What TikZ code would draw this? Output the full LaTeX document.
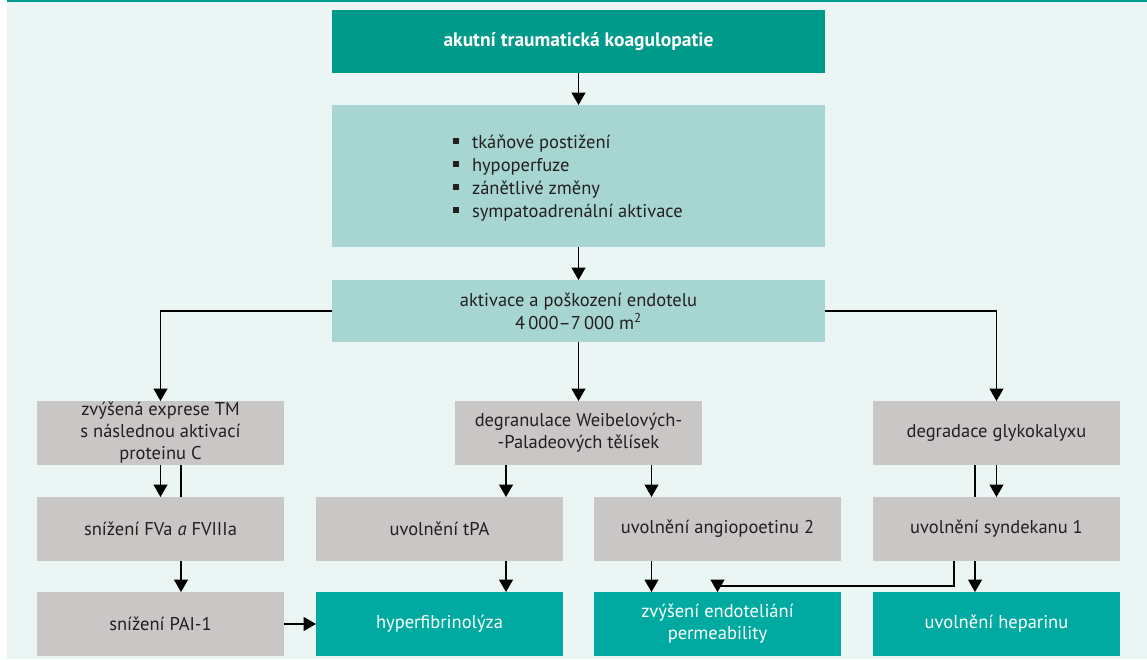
\documentclass[tikz,border=0pt]{standalone}
\usepackage{fontspec}
\setmainfont{PT Sans}
\usetikzlibrary{arrows.meta}
\pgfdeclarelayer{bglayer}
\pgfdeclarelayer{behind}
\pgfsetlayers{bglayer,behind,main}
\definecolor{bgc}{RGB}{235,245,243}
\definecolor{topc}{RGB}{0,154,138}
\definecolor{lightc}{RGB}{167,214,210}
\definecolor{grayc}{RGB}{201,199,197}
\definecolor{tealc}{RGB}{0,170,160}
\definecolor{txt}{RGB}{35,31,32}
\newcommand{\sqbul}{\makebox[19pt][l]{\rule[4pt]{6pt}{6pt}}}
\begin{document}
\begin{tikzpicture}[x=1pt,y=-1pt,
  base/.style={inner sep=0pt,outer sep=0pt,align=center,text=txt,
    font=\fontsize{18.5}{22}\selectfont},
  wbox/.style={base,minimum width=247pt,minimum height=64pt},
  graybox/.style={wbox,fill=grayc},
  tealbox/.style={wbox,fill=tealc,text=white},
  widebox/.style={base,minimum width=493pt},
  arr/.style={line width=1.4pt,draw=black,-{Triangle[width=14pt,length=12.5pt]}},
  ln/.style={line width=1.4pt,draw=black}]
\useasboundingbox (0,0) rectangle (1147,659);
\begin{pgfonlayer}{bglayer}
\fill[bgc] (7,0) rectangle (1147,659);
\fill[topc] (7,0) rectangle (1147,1.5);
\end{pgfonlayer}

% top column
\node[widebox,fill=topc,minimum height=63pt,text=white,font=\bfseries\fontsize{19.5}{22}\selectfont] (top) at (578.5,41.5) {akutní traumatická koagulopatie};
\node[widebox,fill=lightc,minimum height=142pt] (bul) at (578.5,176) {};
\node[base,anchor=west,align=left,font=\fontsize{18.5}{23}\selectfont] (bultext) at (453,178) {\sqbul tkáňové postižení\\ \sqbul hypoperfuze\\ \sqbul zánětlivé změny\\ \sqbul sympatoadrenální aktivace};
\node[widebox,fill=lightc,minimum height=62pt,font=\fontsize{18.5}{23}\selectfont] (endo) at (578.5,311) {aktivace a poškození endotelu\\ 4\,000–7\,000 m\textsuperscript{2}};

% row 2
\node[graybox] (exp) at (160.5,433) {zvýšená exprese TM\\ s následnou aktivací\\ proteinu C};
\node[graybox] (deg) at (578.5,433) {degranulace Weibelových-\\ -Paladeových tělísek};
\node[graybox] (gly) at (996.5,433) {degradace glykokalyxu};

% row 3
\node[graybox] (fva) at (160.5,529) {snížení FVa \textit{a} FVIIIa};
\node[graybox] (tpa) at (439.5,529) {uvolnění tPA};
\node[graybox] (ang) at (717.5,529) {uvolnění angiopoetinu 2};
\node[graybox] (syn) at (996.5,529) {uvolnění syndekanu 1};

% row 4
\node[graybox] (pai) at (160.5,624) {snížení PAI-1};
\node[tealbox] (hyp) at (439.5,624) {hyperfibrinolýza};
\node[tealbox] (perm) at (717.5,624) {zvýšení endoteliání\\ permeability};
\node[tealbox] (hep) at (996.5,624) {uvolnění heparinu};

% connectors
\draw[arr] (top) -- (bul);
\draw[arr] (bul) -- (endo);
\draw[arr] (endo) -- (deg);
\draw[arr] (endo.west) -| (exp.north);
\draw[arr] (endo.east) -| (gly.north);
\draw[arr] (exp) -- (fva);
\begin{pgfonlayer}{behind}
\draw[arr] ([xshift=20.5pt]exp.south) coordinate (e1) -- (e1 |- pai.north);
\draw[arr] ([xshift=-21.5pt]gly.south) coordinate (g1) -- (g1 |- hep.north);
\end{pgfonlayer}
\draw[arr] ([xshift=-72.5pt]deg.south) coordinate (d1) -- (d1 |- tpa.north);
\draw[arr] ([xshift=73pt]deg.south) coordinate (d2) -- (d2 |- ang.north);
\draw[arr] (gly) -- (syn);
\draw[arr] (tpa.south -| d1) -- (d1 |- hyp.north);
\draw[arr] (ang.south -| d2) -- (d2 |- perm.north);
\draw[arr] ([xshift=-42.5pt]syn.south) coordinate (s1) -- ++(0,25) -| (perm.north);
\draw[arr] (pai) -- (hyp);
\end{tikzpicture}
\end{document}
